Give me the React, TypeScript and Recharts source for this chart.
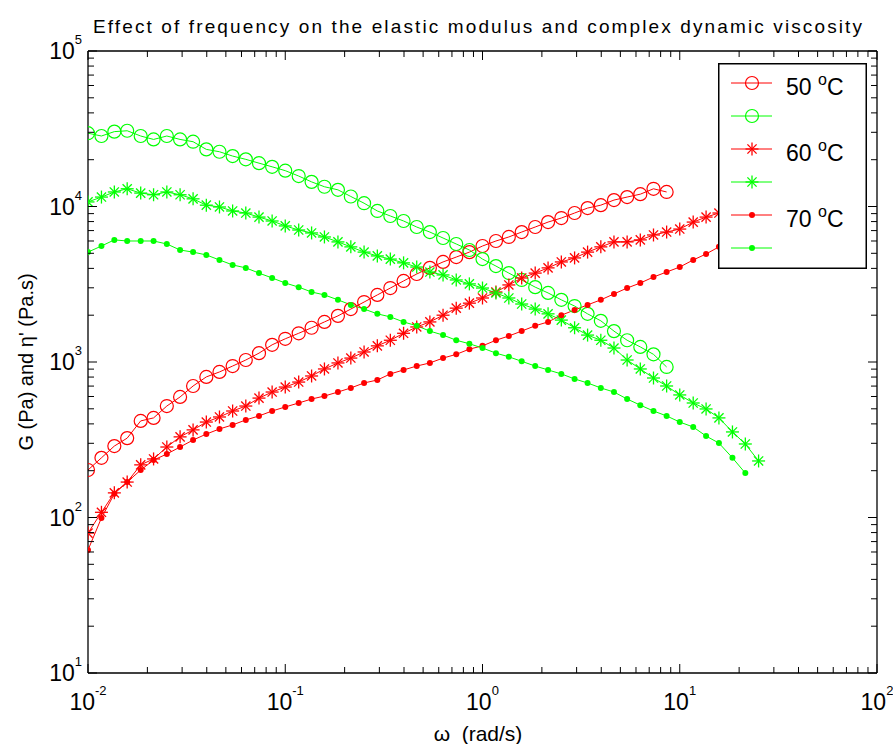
import { LineChart, Line, XAxis, YAxis, Legend, ReferenceLine } from 'recharts';

// frequency sweep, rad/s
const FREQ = [
  0.01, 0.0117, 0.0136, 0.0158, 0.0185, 0.0215, 0.0251, 0.0293, 0.0341, 0.0398,
  0.0464, 0.0541, 0.0631, 0.0736, 0.0858, 0.1, 0.117, 0.136, 0.158, 0.185,
  0.215, 0.251, 0.293, 0.341, 0.398, 0.464, 0.541, 0.631, 0.736, 0.858,
  1, 1.17, 1.36, 1.58, 1.85, 2.15, 2.51, 2.93, 3.41, 3.98,
  4.64, 5.41, 6.31, 7.36, 8.58, 10, 11.7, 13.6, 15.8, 18.5,
  21.5, 25.1
];

// elastic modulus G (Pa)
const G50 = [
  202, 242, 288, 324, 418, 437, 521, 596, 701, 802,
  863, 942, 1030, 1140, 1290, 1410, 1530, 1660, 1810, 1980,
  2190, 2430, 2700, 2990, 3320, 3680, 4030, 4400, 4730, 5090,
  5570, 6000, 6370, 6850, 7380, 7940, 8430, 9080, 9770, 10200,
  11000, 11500, 12000, 13000, 12400
];
const G60 = [
  79.4, 108, 144, 169, 218, 238, 284, 330, 366, 411,
  443, 484, 521, 586, 641, 690, 743, 813, 902, 986,
  1060, 1160, 1270, 1380, 1530, 1680, 1810, 2000, 2220, 2390,
  2580, 2820, 3130, 3470, 3730, 4030, 4400, 4670, 5090, 5500,
  5920, 5920, 6100, 6560, 6850, 7160, 7940, 8550, 9080, 9770,
  10400, 11000
];
const G70 = [
  61.8, 99.3, 142, 169, 202, 234, 256, 284, 315, 344,
  371, 394, 424, 450, 484, 514, 545, 578, 604, 641,
  681, 733, 766, 838, 889, 942, 986, 1060, 1120, 1210,
  1270, 1380, 1470, 1580, 1710, 1810, 2000, 2160, 2330, 2510,
  2740, 2990, 3220, 3520, 3790, 4080, 4530, 4950, 5500, 6000,
  6560
];

// complex dynamic viscosity eta' (Pa.s)
const ETA50 = [
  29600, 28400, 30300, 30700, 28400, 27000, 28400, 27000, 26100, 23300,
  22500, 21100, 20100, 19000, 18000, 17000, 15700, 14400, 13400, 12800,
  11600, 10500, 9360, 8690, 8070, 7380, 6850, 6270, 5740, 5250,
  4590, 4140, 3730, 3370, 3030, 2780, 2510, 2290, 2040, 1840,
  1580, 1380, 1250, 1120, 929
];
const ETA60 = [
  10700, 11500, 12400, 13000, 12200, 11900, 12400, 11900, 11200, 10200,
  9930, 9360, 9080, 8550, 8070, 7500, 7060, 6760, 6370, 5920,
  5500, 5090, 4810, 4590, 4340, 4080, 3790, 3630, 3370, 3180,
  2990, 2780, 2580, 2360, 2190, 2040, 1860, 1660, 1490, 1380,
  1230, 1030, 902, 789, 701, 614, 545, 499, 437, 355,
  297, 231
];
const ETA70 = [
  5090, 5570, 6100, 6000, 6000, 6000, 5740, 5250, 5090, 4880,
  4530, 4210, 4030, 3730, 3470, 3220, 3030, 2820, 2700, 2510,
  2330, 2190, 2040, 1950, 1810, 1710, 1580, 1490, 1380, 1310,
  1230, 1140, 1080, 1010, 942, 889, 838, 778, 733, 681,
  641, 578, 528, 484, 450, 411, 382, 334, 301, 242,
  193
];

const X_MAJOR = [0.01, 0.1, 1, 10, 100];
const Y_MAJOR = [10, 100, 1000, 10000, 100000];
const MINOR_STEPS = [2, 3, 4, 5, 6, 7, 8, 9];

const LEGEND_LABELS = ['50 ', '', '60 ', '', '70 ', ''];

const RED = '#ff0000';
const GREEN = '#00ff00';
const FONT = '"Liberation Sans", Arial, Helvetica, sans-serif';

const W = 893;
const H = 744;
const PLOT_LEFT = 88;
const PLOT_RIGHT = 877;
const PLOT_TOP = 51;
const PLOT_BOTTOM = 673;

const withMinors = (majors: number[]) => {
  const out: number[] = [];
  majors.forEach((d, i) => {
    out.push(d);
    if (i < majors.length - 1) MINOR_STEPS.forEach(k => out.push(+(d * k).toPrecision(6)));
  });
  return out;
};
const X_TICKS = withMinors(X_MAJOR);
const Y_TICKS = withMinors(Y_MAJOR);

const isMajor = (v: number) => Math.abs(Math.log10(v) - Math.round(Math.log10(v))) < 1e-6;

const data = FREQ.map((w, i) => ({
  w,
  g50: G50[i] ?? null,
  e50: ETA50[i] ?? null,
  g60: G60[i] ?? null,
  e60: ETA60[i] ?? null,
  g70: G70[i] ?? null,
  e70: ETA70[i] ?? null
}));

type MarkerKind = 'circle' | 'star' | 'dot';

function Marker({ cx, cy, color, kind }: { cx: number; cy: number; color: string; kind: MarkerKind }) {
  if (kind === 'circle') {
    return <circle cx={cx} cy={cy} r={6.5} fill="none" stroke={color} strokeWidth={1.2} />;
  }
  if (kind === 'dot') {
    return <circle cx={cx} cy={cy} r={3} fill={color} stroke="none" />;
  }
  const a = 6.5;
  const d = 4.6;
  return (
    <g stroke={color} strokeWidth={1.3}>
      <line x1={cx - a} y1={cy} x2={cx + a} y2={cy} />
      <line x1={cx} y1={cy - a} x2={cx} y2={cy + a} />
      <line x1={cx - d} y1={cy - d} x2={cx + d} y2={cy + d} />
      <line x1={cx - d} y1={cy + d} x2={cx + d} y2={cy - d} />
    </g>
  );
}

const makeDot = (color: string, kind: MarkerKind) => (props: any) => {
  const { cx, cy, index, value } = props;
  if (cx == null || cy == null || value == null) return <g key={`n-${index}`} />;
  return (
    <g key={`m-${index}`}>
      <Marker cx={cx} cy={cy} color={color} kind={kind} />
    </g>
  );
};

const SERIES: { key: string; color: string; kind: MarkerKind }[] = [
  { key: 'g50', color: RED, kind: 'circle' },
  { key: 'e50', color: GREEN, kind: 'circle' },
  { key: 'g60', color: RED, kind: 'star' },
  { key: 'e60', color: GREEN, kind: 'star' },
  { key: 'g70', color: RED, kind: 'dot' },
  { key: 'e70', color: GREEN, kind: 'dot' }
];

function XTick(props: any) {
  const { x, payload } = props;
  const v = payload.value;
  const major = isMajor(v);
  const len = major ? 9 : 6;
  const exp = Math.round(Math.log10(v));
  return (
    <g>
      <line x1={x} y1={PLOT_BOTTOM} x2={x} y2={PLOT_BOTTOM - len} stroke="#000" />
      <line x1={x} y1={PLOT_TOP} x2={x} y2={PLOT_TOP + len} stroke="#000" />
      {major && (
        <text x={x} y={710} textAnchor="middle" fontFamily={FONT} fontSize={23} fill="#000">
          10<tspan dy={-15} fontSize={13}>{exp}</tspan>
        </text>
      )}
    </g>
  );
}

function YTick(props: any) {
  const { y, payload } = props;
  const v = payload.value;
  const major = isMajor(v);
  const len = major ? 9 : 6;
  const exp = Math.round(Math.log10(v));
  return (
    <g>
      <line x1={PLOT_LEFT} y1={y} x2={PLOT_LEFT + len} y2={y} stroke="#000" />
      <line x1={PLOT_RIGHT} y1={y} x2={PLOT_RIGHT - len} y2={y} stroke="#000" />
      {major && (
        <text x={82} y={y + 8} textAnchor="end" fontFamily={FONT} fontSize={23} fill="#000">
          10<tspan dy={-15} fontSize={13}>{exp}</tspan>
        </text>
      )}
    </g>
  );
}

function LegendBox() {
  return (
    <svg width={149} height={206} style={{ display: 'block' }}>
      <rect x={0.75} y={0.75} width={147.5} height={204.5} fill="#fff" stroke="#000" strokeWidth={1.5} />
      {SERIES.map((s, i) => {
        const y = 20 + i * 33;
        return (
          <g key={s.key}>
            <line x1={13} y1={y} x2={54} y2={y} stroke={s.color} strokeWidth={1} />
            <Marker cx={34} cy={y} color={s.color} kind={s.kind} />
            {LEGEND_LABELS[i] && (
              <text x={68} y={y + 12} fontFamily={FONT} fontSize={23} fill="#000" style={{ whiteSpace: 'pre' }}>
                {LEGEND_LABELS[i]}
                <tspan dy={-10} fontSize={16}>o</tspan>
                <tspan dy={10}>C</tspan>
              </text>
            )}
          </g>
        );
      })}
    </svg>
  );
}

export default function App() {
  return (
    <div style={{ position: 'absolute', left: 0, top: 0, width: W, height: H, background: '#fff' }}>
      <LineChart
        width={W}
        height={H}
        data={data}
        margin={{ top: PLOT_TOP, right: W - PLOT_RIGHT, bottom: 0, left: 0 }}
      >
        <XAxis
          dataKey="w"
          type="number"
          scale="log"
          domain={[0.01, 100]}
          ticks={X_TICKS}
          interval={0}
          tick={<XTick />}
          tickLine={false}
          axisLine={{ stroke: '#000', strokeWidth: 1.3 }}
          height={H - PLOT_BOTTOM}
          allowDataOverflow
        />
        <YAxis
          type="number"
          scale="log"
          domain={[10, 100000]}
          ticks={Y_TICKS}
          interval={0}
          tick={<YTick />}
          tickLine={false}
          axisLine={{ stroke: '#000', strokeWidth: 1.3 }}
          width={PLOT_LEFT}
          allowDataOverflow
        />
        <ReferenceLine y={100000} stroke="#000" strokeWidth={1.3} />
        <ReferenceLine x={100} stroke="#000" strokeWidth={1.3} />
        {SERIES.map(s => (
          <Line
            key={s.key}
            type="linear"
            dataKey={s.key}
            stroke={s.color}
            strokeWidth={1}
            dot={makeDot(s.color, s.kind)}
            activeDot={false}
            isAnimationActive={false}
            connectNulls={false}
          />
        ))}
        <Legend
          layout="vertical"
          align="center"
          verticalAlign="middle"
          content={() => <LegendBox />}
          wrapperStyle={{ position: 'absolute', left: 718, top: 63, width: 149, height: 206 }}
        />
      </LineChart>
      <svg
        width={W}
        height={H}
        style={{ position: 'absolute', left: 0, top: 0, pointerEvents: 'none' }}
      >
        <text
          x={93}
          y={33}
          fontFamily={FONT}
          fontSize={19}
          textLength={769}
          lengthAdjust="spacing"
          fill="#000"
        >
          Effect of frequency on the elastic modulus and complex dynamic viscosity
        </text>
        <text
          x={478}
          y={741}
          textAnchor="middle"
          fontFamily={FONT}
          fontSize={21}
          fill="#000"
          style={{ whiteSpace: 'pre' }}
        >
          ω  (rad/s)
        </text>
        <text
          transform={`translate(33, ${(PLOT_TOP + PLOT_BOTTOM) / 2}) rotate(-90)`}
          textAnchor="middle"
          fontFamily={FONT}
          fontSize={20}
          fill="#000"
        >
          G (Pa) and η' (Pa.s)
        </text>
      </svg>
    </div>
  );
}
